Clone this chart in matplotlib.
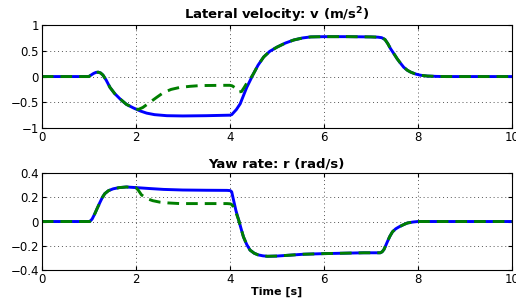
import matplotlib
matplotlib.use('Agg')
import matplotlib.pyplot as plt
from matplotlib.ticker import FuncFormatter

plt.rcParams['font.family'] = ['DejaVu Sans']

# lateral velocity v
t_v_blue = [0, 1.0, 1.05, 1.1, 1.15, 1.2, 1.25, 1.3, 1.37, 1.45, 1.55, 1.66, 1.8, 1.95, 2.1,
            2.23, 2.4, 2.66, 3.0, 3.5, 4.0, 4.04, 4.08, 4.14, 4.22, 4.29, 4.36, 4.43, 4.5,
            4.6, 4.72, 4.85, 5.0, 5.18, 5.36, 5.55, 5.72, 6.0, 6.5, 7.0, 7.15, 7.23, 7.3,
            7.36, 7.42, 7.5, 7.56, 7.63, 7.7, 7.78, 7.85, 7.95, 8.06, 8.2, 8.4, 8.6, 10]
v_blue = [0, 0, 0.03, 0.06, 0.08, 0.085, 0.07, 0.03, -0.07, -0.21, -0.33, -0.43, -0.54,
          -0.61, -0.67, -0.71, -0.74, -0.76, -0.765, -0.76, -0.75, -0.74, -0.7, -0.64, -0.53,
          -0.37, -0.21, -0.08, 0.05, 0.22, 0.38, 0.49, 0.57, 0.65, 0.71, 0.75, 0.77, 0.775,
          0.775, 0.77, 0.765, 0.755, 0.72, 0.64, 0.54, 0.43, 0.345, 0.26, 0.18, 0.12, 0.085,
          0.05, 0.025, 0.01, 0.003, 0, 0]

t_v_green = [0, 1.0, 1.05, 1.1, 1.15, 1.2, 1.25, 1.3, 1.37, 1.45, 1.55, 1.66, 1.8, 1.95,
             2.05, 2.15, 2.3, 2.45, 2.59, 2.75, 2.94, 3.15, 3.37, 3.9, 4.0, 4.05, 4.1, 4.15,
             4.19, 4.25, 4.3, 4.36, 4.43, 4.5, 4.6, 4.72, 4.85, 5.0, 5.18, 5.36, 5.55, 5.72,
             6.0, 6.5, 7.0, 7.15, 7.23, 7.3, 7.36, 7.42, 7.5, 7.56, 7.63, 7.7, 7.78, 7.85,
             7.95, 8.06, 8.2, 8.4, 8.6, 10]
v_green = [0, 0, 0.03, 0.06, 0.08, 0.085, 0.07, 0.03, -0.07, -0.21, -0.33, -0.43, -0.54,
           -0.61, -0.64, -0.6, -0.5, -0.4, -0.31, -0.25, -0.21, -0.19, -0.175, -0.17, -0.17,
           -0.18, -0.21, -0.26, -0.3, -0.29, -0.22, -0.13, -0.05, 0.05, 0.22, 0.38, 0.49,
           0.57, 0.65, 0.71, 0.75, 0.77, 0.775, 0.775, 0.77, 0.765, 0.755, 0.72, 0.64, 0.54,
           0.43, 0.345, 0.26, 0.18, 0.12, 0.085, 0.05, 0.025, 0.01, 0.003, 0, 0]

# yaw rate r
t_r_blue = [0, 1.02, 1.07, 1.13, 1.18, 1.24, 1.29, 1.34, 1.42, 1.52, 1.65, 1.8, 2.0, 2.3,
            2.59, 3.0, 3.5, 3.94, 4.01, 4.04, 4.08, 4.13, 4.19, 4.24, 4.29, 4.36, 4.43,
            4.52, 4.6, 4.7, 4.8, 5.0, 5.57, 6.0, 6.85, 7.2, 7.24, 7.28, 7.32, 7.35, 7.4,
            7.46, 7.53, 7.6, 7.7, 7.78, 7.9, 8.0, 10]
r_blue = [0, 0, 0.02, 0.066, 0.11, 0.16, 0.2, 0.23, 0.255, 0.27, 0.28, 0.285, 0.28, 0.272,
          0.265, 0.26, 0.258, 0.257, 0.255, 0.245, 0.175, 0.09, 0.01, -0.06, -0.127, -0.19,
          -0.236, -0.262, -0.275, -0.283, -0.287, -0.285, -0.27, -0.265, -0.258, -0.258,
          -0.25, -0.23, -0.195, -0.168, -0.125, -0.085, -0.06, -0.044, -0.025, -0.012,
          -0.004, 0, 0]

t_r_green = [0, 1.02, 1.07, 1.13, 1.18, 1.24, 1.29, 1.34, 1.42, 1.52, 1.65, 1.8, 2.0, 2.05,
             2.12, 2.23, 2.36, 2.51, 2.7, 2.94, 3.5, 3.94, 4.01, 4.04, 4.08, 4.13, 4.19,
             4.24, 4.29, 4.36, 4.43, 4.52, 4.6, 4.7, 4.8, 5.0, 5.57, 6.0, 6.85, 7.2, 7.24,
             7.28, 7.32, 7.35, 7.4, 7.46, 7.53, 7.6, 7.7, 7.78, 7.9, 8.0, 10]
r_green = [0, 0, 0.02, 0.066, 0.11, 0.16, 0.2, 0.23, 0.255, 0.27, 0.28, 0.285, 0.28, 0.26,
           0.22, 0.19, 0.172, 0.16, 0.153, 0.148, 0.148, 0.148, 0.146, 0.14, 0.12, 0.075,
           0.01, -0.06, -0.127, -0.19, -0.236, -0.262, -0.275, -0.283, -0.287, -0.285,
           -0.27, -0.265, -0.258, -0.258, -0.25, -0.23, -0.195, -0.168, -0.125, -0.085,
           -0.06, -0.044, -0.025, -0.012, -0.004, 0, 0]

fmt = FuncFormatter(lambda x, p: ('%g' % x).replace('-', '\u2212'))

fig = plt.figure(figsize=(5.16, 3.02), dpi=100)
ax1 = fig.add_axes([0.081, 0.576, 0.911, 0.341])
ax2 = fig.add_axes([0.081, 0.106, 0.911, 0.321])

for ax, tb, yb, tg, yg in [(ax1, t_v_blue, v_blue, t_v_green, v_green),
                           (ax2, t_r_blue, r_blue, t_r_green, r_green)]:
    ax.plot(tb, yb, color='#0000ff', lw=2.1)
    ax.plot(tg, yg, color='#007f00', lw=2.1, linestyle='--', dashes=(4, 2.4))
    ax.set_xlim(0, 10)
    ax.set_xticks([0, 2, 4, 6, 8, 10])
    ax.grid(True, color='#555555', linestyle=(0, (1, 3)), linewidth=0.7)
    ax.tick_params(direction='in', top=True, right=True, labelsize=8.5, length=3, pad=2)
    ax.yaxis.set_major_formatter(fmt)
    ax.xaxis.set_major_formatter(fmt)

ax1.set_ylim(-1, 1)
ax1.set_yticks([-1, -0.5, 0, 0.5, 1])
ax1.set_title(r'Lateral velocity: v (m/s$^\mathbf{2}$)', fontsize=9.5, fontweight='bold', pad=4)

ax2.set_ylim(-0.4, 0.4)
ax2.set_yticks([-0.4, -0.2, 0, 0.2, 0.4])
ax2.set_title('Yaw rate: r (rad/s)', fontsize=9.5, fontweight='bold', pad=4)
ax2.set_xlabel('Time [s]', fontsize=8, fontweight='bold', labelpad=1)

fig.savefig('out.png', dpi=100)
